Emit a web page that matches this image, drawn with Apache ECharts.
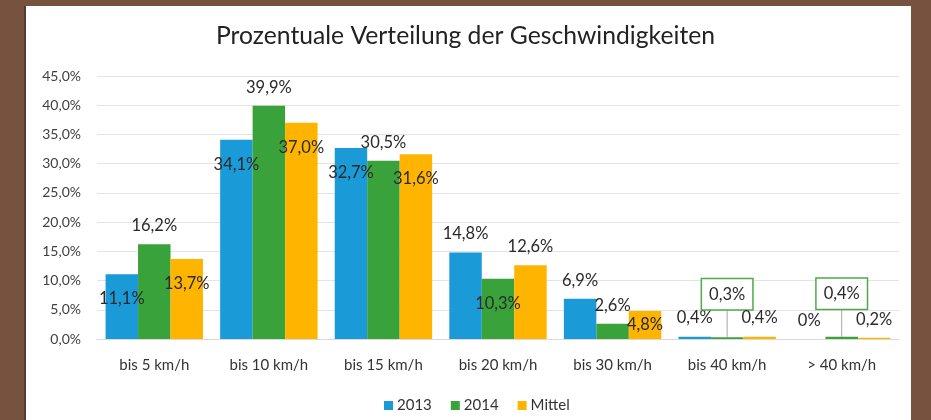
<!DOCTYPE html>
<html>
<head>
<meta charset="utf-8">
<script src="https://cdn.jsdelivr.net/npm/echarts@6/dist/echarts.min.js"></script>
<style>
html,body{margin:0;padding:0;background:#76523f;}
#chart{width:931px;height:420px;}
</style>
</head>
<body>
<div id="chart"></div>
<script>
const categories = ['bis 5 km/h', 'bis 10 km/h', 'bis 15 km/h', 'bis 20 km/h', 'bis 30 km/h', 'bis 40 km/h', '> 40 km/h'];
const v2013 = [11.1, 34.1, 32.7, 14.8, 6.9, 0.4, 0];
const v2014 = [16.2, 39.9, 30.5, 10.3, 2.6, 0.3, 0.4];
const vMittel = [13.7, 37.0, 31.6, 12.6, 4.8, 0.4, 0.2];
const seriesNames = ['2013', '2014', 'Mittel'];

// label placement styles (not data)
const place2013 = ['in', 'in', 'in', 'top', 'top', 'top', 'top'];
const place2014 = ['top', 'top', 'top', 'in', 'top', 'box', 'box'];
const placeMittel = ['in', 'in', 'in', 'top', 'mid', 'top', 'top'];

const colors = ['#1a9ad6', '#3aa23a', '#ffb400'];
const FONT = 'Lato';

function fmt(v) {
  return v === 0 ? '0%' : v.toFixed(1).replace('.', ',') + '%';
}

function buildData(values, places) {
  return values.map((v, i) => {
    const p = places[i];
    const item = { value: v };
    if (p === 'in') {
      item.label = { position: 'insideTop', distance: 16 };
    } else if (p === 'mid') {
      item.label = { position: 'inside' };
    } else if (p === 'box') {
      item.label = {
        position: 'top', distance: 6,
        borderColor: '#4caa4c', borderWidth: 1.5,
        backgroundColor: '#ffffff',
        padding: [7, 7, 6, 7]
      };
      item.labelLine = { show: true, lineStyle: { color: '#a6a6a6', width: 1 } };
    } else {
      item.label = { position: 'top', distance: 10 };
    }
    return item;
  });
}

const allValues = [v2013, v2014, vMittel];
const allPlaces = [place2013, place2014, placeMittel];

const chart = echarts.init(document.getElementById('chart'), null, { renderer: 'canvas' });
chart.setOption({
  animation: false,
  textStyle: { fontFamily: FONT },
  graphic: [
    { type: 'rect', shape: { x: 24, y: 6, width: 2, height: 414 }, style: { fill: '#5a3a2c' }, z: -10 },
    { type: 'rect', shape: { x: 26, y: 6, width: 885, height: 414 }, style: { fill: '#ffffff' }, z: -10 }
  ],
  title: {
    text: 'Prozentuale Verteilung der Geschwindigkeiten',
    left: 'center',
    top: 19,
    textStyle: { fontFamily: FONT, fontSize: 24.7, fontWeight: 'normal', color: '#222222' }
  },
  legend: {
    data: seriesNames,
    left: 379,
    top: 393,
    icon: 'rect',
    itemWidth: 9,
    itemHeight: 9,
    itemGap: 19,
    textStyle: { fontFamily: FONT, fontSize: 15, color: '#333333', padding: [0, 0, 0, -1] }
  },
  grid: { left: 97, right: 32, top: 76, bottom: 81, containLabel: false },
  xAxis: {
    type: 'category',
    data: categories,
    axisLine: { show: true, lineStyle: { color: '#d9d9d9' } },
    axisTick: { show: false },
    axisLabel: { color: '#333333', fontSize: 15, margin: 19, fontFamily: FONT }
  },
  yAxis: {
    type: 'value',
    min: 0,
    max: 45,
    interval: 5,
    axisLine: { show: false },
    axisTick: { show: false },
    splitLine: { lineStyle: { color: '#e3e3e3' } },
    axisLabel: {
      color: '#404040', fontSize: 14, margin: 16, fontFamily: FONT,
      formatter: v => v.toFixed(1).replace('.', ',') + '%'
    }
  },
  series: seriesNames.map((name, s) => ({
    name: name,
    type: 'bar',
    barGap: '0%',
    barCategoryGap: '15%',
    itemStyle: { color: colors[s] },
    label: {
      show: true,
      color: '#2a2a2a',
      fontSize: 16.5,
      fontFamily: FONT,
      formatter: p => fmt(p.value)
    },
    labelLayout: s === 1 ? function (params) {
      return params.dataIndex >= 5 ? { dy: -22 } : {};
    } : undefined,
    data: buildData(allValues[s], allPlaces[s])
  }))
});
</script>
</body>
</html>
